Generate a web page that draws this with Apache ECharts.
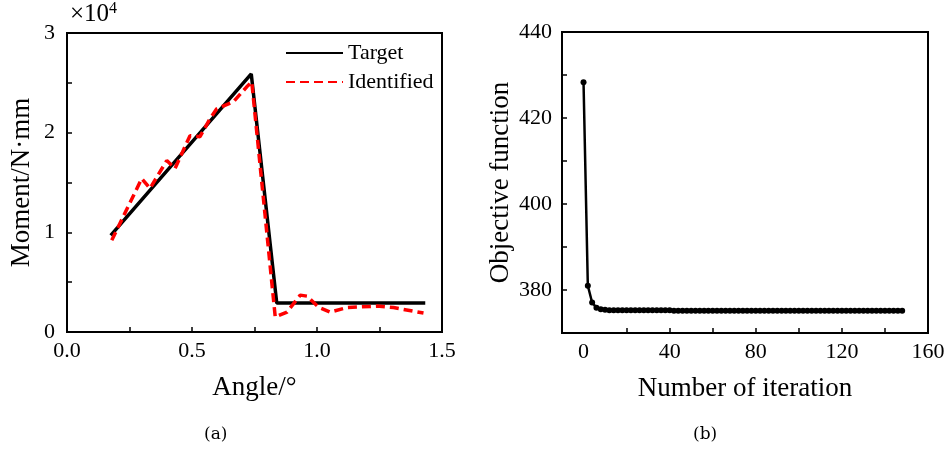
<!DOCTYPE html>
<html>
<head>
<meta charset="utf-8">
<script src="https://cdn.jsdelivr.net/npm/echarts@6/dist/echarts.min.js"></script>
<style>html,body{margin:0;padding:0;background:#fff}#c{width:952px;height:462px}</style>
</head>
<body>
<div id="c"></div>
<script>
// ---- Data (a): moment vs angle ----
const targetAngle  = [0.175, 0.737, 0.839, 1.433];
const targetMoment = [9700, 25900, 2900, 2900];
const identAngle  = [0.179, 0.299, 0.332, 0.399, 0.432, 0.492, 0.532, 0.572, 0.599, 0.666, 0.719, 0.739, 0.833, 0.880, 0.933, 0.960, 1.006, 1.053, 1.120, 1.240, 1.306, 1.426];
const identMoment = [9200, 15400, 14400, 17200, 16400, 19700, 19600, 21400, 22400, 23100, 24600, 25100, 1500, 2000, 3700, 3600, 2500, 2000, 2450, 2600, 2450, 1900];
const angleTicks = [0.25, 0.5, 0.75, 1.0, 1.25];
const angleLabels = [0, 0.5, 1.0, 1.5];
const momentTicks = [5000, 10000, 15000, 20000, 25000];
const momentLabels = [0, 10000, 20000, 30000];

// ---- Data (b): objective vs iteration ----
const iterations = [0,2,4,6,8,10,12,14,16,18,20,22,24,26,28,30,32,34,36,38,40,42,44,46,48,50,52,54,56,58,60,62,64,66,68,70,72,74,76,78,80,82,84,86,88,90,92,94,96,98,100,102,104,106,108,110,112,114,116,118,120,122,124,126,128,130,132,134,136,138,140,142,144,146,148];
const objective = [428.3,381.0,377.1,375.9,375.5,375.4,375.3,375.3,375.3,375.3,375.3,375.3,375.3,375.3,375.3,375.3,375.3,375.3,375.3,375.3,375.3,375.2,375.2,375.2,375.2,375.2,375.2,375.2,375.2,375.2,375.2,375.2,375.2,375.2,375.2,375.2,375.2,375.2,375.2,375.2,375.2,375.2,375.2,375.2,375.2,375.2,375.2,375.2,375.2,375.2,375.2,375.2,375.2,375.2,375.2,375.2,375.2,375.2,375.2,375.2,375.2,375.2,375.2,375.2,375.2,375.2,375.2,375.2,375.2,375.2,375.2,375.2,375.2,375.2,375.2];
const iterTicks = [20, 40, 60, 80, 100, 120, 140];
const iterLabels = [0, 40, 80, 120, 160];
const objTicks = [380, 390, 400, 410, 420, 430];
const objLabels = [380, 400, 420, 440];

const F = '"Liberation Serif", "Times New Roman", serif';
const pair = (xs, ys) => xs.map((x, i) => [x, ys[i]]);

const lineAx = {show: true, onZero: false, lineStyle: {color: '#000', width: 2}};
const tickAx = (vals) => ({show: true, inside: true, length: 5, lineStyle: {color: '#000', width: 1.5}, customValues: vals});

const chart = echarts.init(document.getElementById('c'), null, {renderer: 'canvas'});
chart.setOption({
  animation: false,
  backgroundColor: '#fff',
  grid: [
    {left: 67, top: 33, width: 375, height: 299, show: true, borderColor: '#000', borderWidth: 2, backgroundColor: 'transparent'},
    {left: 562, top: 32, width: 366, height: 301, show: true, borderColor: '#000', borderWidth: 2, backgroundColor: 'transparent'}
  ],
  legend: {
    data: ['Target', 'Identified'],
    left: 280, top: 37, orient: 'vertical',
    itemWidth: 57, itemHeight: 14, itemGap: 7,
    itemStyle: {opacity: 0},
    textStyle: {fontFamily: F, fontSize: 22, color: '#000'}
  },
  xAxis: [
    {gridIndex: 0, type: 'value', min: 0, max: 1.5,
     name: 'Angle/°', nameLocation: 'middle', nameGap: 42,
     nameTextStyle: {fontFamily: F, fontSize: 27, color: '#000'},
     axisLine: lineAx, axisTick: tickAx(angleTicks), splitLine: {show: false},
     axisLabel: {customValues: angleLabels, margin: 8, fontFamily: F, fontSize: 22, color: '#000', formatter: v => v.toFixed(1)}},
    {gridIndex: 1, type: 'value', min: -10, max: 160,
     name: 'Number of iteration', nameLocation: 'middle', nameGap: 42,
     nameTextStyle: {fontFamily: F, fontSize: 27, color: '#000'},
     axisLine: lineAx, axisTick: tickAx(iterTicks), splitLine: {show: false},
     axisLabel: {customValues: iterLabels, margin: 8, fontFamily: F, fontSize: 22, color: '#000'}}
  ],
  yAxis: [
    {gridIndex: 0, type: 'value', min: 0, max: 30000,
     name: 'Moment/N·mm', nameLocation: 'middle', nameGap: 32,
     nameTextStyle: {fontFamily: F, fontSize: 27, color: '#000'},
     axisLine: lineAx, axisTick: tickAx(momentTicks), splitLine: {show: false},
     axisLabel: {customValues: momentLabels, margin: 12, fontFamily: F, fontSize: 22, color: '#000', formatter: v => String(v / 10000)}},
    {gridIndex: 1, type: 'value', min: 370, max: 440,
     name: 'Objective function', nameLocation: 'middle', nameGap: 48,
     nameTextStyle: {fontFamily: F, fontSize: 27, color: '#000'},
     axisLine: lineAx, axisTick: tickAx(objTicks), splitLine: {show: false},
     axisLabel: {customValues: objLabels, margin: 10, fontFamily: F, fontSize: 22, color: '#000'}}
  ],
  graphic: [
    {type: 'text', left: 70, top: 1, style: {
      text: '{a|×10}{b|4}', fill: '#000',
      rich: {a: {fontFamily: F, fontSize: 25, fill: '#000'}, b: {fontFamily: F, fontSize: 16, fill: '#000', verticalAlign: 'top', padding: [0, 0, 10, 0]}}
    }},
    {type: 'text', left: 204, top: 426, style: {text: '(a)', fontFamily: '"DejaVu Serif", serif', fontSize: 17, fill: '#000'}},
    {type: 'text', left: 693, top: 426, style: {text: '(b)', fontFamily: '"DejaVu Serif", serif', fontSize: 17, fill: '#000'}}
  ],
  series: [
    {name: 'Target', type: 'line', xAxisIndex: 0, yAxisIndex: 0, data: pair(targetAngle, targetMoment),
     symbol: 'none', lineStyle: {color: '#000', width: 3.5}, itemStyle: {color: '#000'}, z: 2},
    {name: 'Identified', type: 'line', xAxisIndex: 0, yAxisIndex: 0, data: pair(identAngle, identMoment),
     symbol: 'none', lineStyle: {color: '#ff0000', width: 3.5, type: [9, 5]}, itemStyle: {color: '#ff0000'}, z: 3},
    {name: 'Objective', type: 'line', xAxisIndex: 1, yAxisIndex: 1, data: pair(iterations, objective),
     symbol: 'circle', symbolSize: 6, showSymbol: true, lineStyle: {color: '#000', width: 2.5}, itemStyle: {color: '#000'}}
  ]
});
</script>
</body>
</html>
